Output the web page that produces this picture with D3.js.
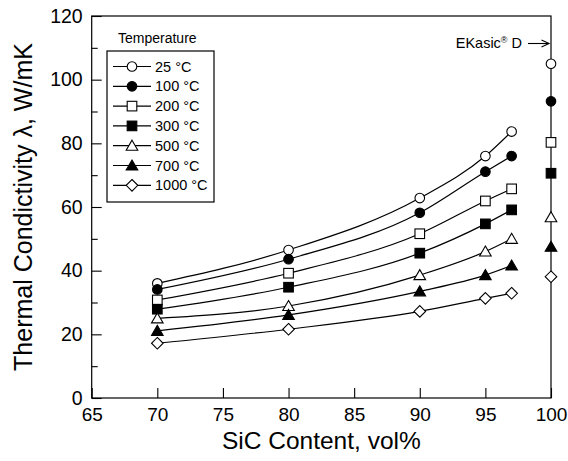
<!DOCTYPE html>
<html><head><meta charset="utf-8">
<script src="https://cdn.jsdelivr.net/npm/d3@7"></script>
<style>body{margin:0;background:#fff}svg{display:block;font-family:"Liberation Sans",Arial,sans-serif}</style>
</head><body><svg id="c" width="568" height="461"></svg>
<script>
const sicContent = [70, 80, 90, 95, 97];
const ekasicX = 100;
const temps = ["25 °C","100 °C","200 °C","300 °C","500 °C","700 °C","1000 °C"];
const k25   = [36.0, 46.5, 62.8, 76.0, 83.7];
const k100  = [34.1, 43.6, 58.2, 71.1, 76.0];
const k200  = [30.8, 39.2, 51.6, 61.9, 65.7];
const k300  = [27.9, 34.8, 45.5, 54.7, 59.1];
const k500  = [25.0, 28.9, 38.6, 46.0, 50.0];
const k700  = [21.1, 26.1, 33.5, 38.6, 41.6];
const k1000 = [17.2, 21.6, 27.2, 31.3, 32.9];
const ekasic = [105.0, 93.2, 80.3, 70.6, 56.8, 47.5, 38.1];
const xTicks = [65,70,75,80,85,90,95,100];
const yTicks = [0,20,40,60,80,100,120];
const yMinor = [10,30,50,70,90,110];
const series = [k25,k100,k200,k300,k500,k700,k1000];
const shapes = ["circle","circle","square","square","triangle","triangle","diamond"];
const filled = [false,true,false,true,false,true,false];

const svg = d3.select("#c");
const L=91.7, R=551, T=16, B=398;
const x = d3.scaleLinear().domain([65,100]).range([L,R]);
const y = d3.scaleLinear().domain([0,120]).range([B,T]);

// frame
svg.append("rect").attr("x",L).attr("y",T).attr("width",R-L).attr("height",B-T)
  .attr("fill","none").attr("stroke","#000").attr("stroke-width",1.2);

const xa = svg.append("g").attr("transform",`translate(0,${B})`)
  .call(d3.axisBottom(x).tickValues(xTicks).tickSize(-10).tickPadding(5).tickFormat(d3.format("d")));
xa.select(".domain").remove();
xa.selectAll("text").attr("font-size",19).attr("font-family","Liberation Sans, Arial").attr("dy","0.95em");
xa.selectAll("line").attr("stroke-width",1.1);

const ya = svg.append("g").attr("transform",`translate(${L},0)`)
  .call(d3.axisLeft(y).tickValues(yTicks).tickSize(-10).tickPadding(9).tickFormat(d3.format("d")));
ya.select(".domain").remove();
ya.selectAll("text").attr("font-size",19.5).attr("font-family","Liberation Sans, Arial");
ya.selectAll("line").attr("stroke-width",1.1);
const ym = svg.append("g").attr("transform",`translate(${L},0)`)
  .call(d3.axisLeft(y).tickValues(yMinor).tickSize(-6).tickFormat(""));
ym.select(".domain").remove();
ym.selectAll("line").attr("stroke-width",1.1);

// axis titles
svg.append("text").attr("x",(L+R)/2).attr("y",449).attr("text-anchor","middle")
  .attr("font-size",24.5).text("SiC Content, vol%");
svg.append("text").attr("transform",`translate(32,${(T+B)/2}) rotate(-90)`).attr("text-anchor","middle")
  .attr("font-size",25).text("Thermal Condictivity λ, W/mK");

function marker(g, shape, fill, cx, cy){
  const f = fill ? "#000" : "#fff";
  if(shape==="circle") g.append("circle").attr("cx",cx).attr("cy",cy).attr("r",4.8).attr("fill",f).attr("stroke","#000").attr("stroke-width",1.1);
  else if(shape==="square") g.append("rect").attr("x",cx-4.8).attr("y",cy-4.8).attr("width",9.6).attr("height",9.6).attr("fill",f).attr("stroke","#000").attr("stroke-width",1.1);
  else if(shape==="triangle") g.append("path").attr("d",`M${cx},${cy-5.5}L${cx+5.8},${cy+4.5}L${cx-5.8},${cy+4.5}Z`).attr("fill",f).attr("stroke","#000").attr("stroke-width",1.1);
  else g.append("path").attr("d",`M${cx},${cy-5.8}L${cx+5.8},${cy}L${cx},${cy+5.8}L${cx-5.8},${cy}Z`).attr("fill",f).attr("stroke","#000").attr("stroke-width",1.1);
}

const line = d3.line().x(d=>x(d[0])).y(d=>y(d[1])).curve(d3.curveMonotoneX);
const gl = svg.append("g"), gm = svg.append("g");
series.forEach((s,i)=>{
  const pts = sicContent.map((c,j)=>[c,s[j]]);
  gl.append("path").attr("d",line(pts)).attr("fill","none").attr("stroke","#000").attr("stroke-width",1.2);
  pts.forEach(p=>marker(gm,shapes[i],filled[i],x(p[0]),y(p[1])));
  marker(gm,shapes[i],filled[i],x(ekasicX),y(ekasic[i]));
});

// legend
svg.append("text").attr("x",118).attr("y",43).attr("font-size",14).text("Temperature");
svg.append("rect").attr("x",107).attr("y",51).attr("width",107).attr("height",151)
  .attr("fill","#fff").attr("stroke","#000").attr("stroke-width",1.2);
temps.forEach((t,i)=>{
  const yy = 66.5 + i*19.8;
  svg.append("line").attr("x1",113).attr("x2",151).attr("y1",yy).attr("y2",yy).attr("stroke","#000").attr("stroke-width",1.2);
  marker(svg,shapes[i],filled[i],132,yy);
  svg.append("text").attr("x",155).attr("y",yy+5).attr("font-size",14.5).text(t);
});

// EKasic annotation
const ann = svg.append("text").attr("x",522).attr("y",48).attr("text-anchor","end").attr("font-size",14.5);
ann.append("tspan").text("EKasic");
ann.append("tspan").attr("font-size",9).attr("dy",-5.5).text("®");
ann.append("tspan").attr("dy",5.5).text(" D");
svg.append("line").attr("x1",528).attr("x2",549).attr("y1",43.5).attr("y2",43.5).attr("stroke","#000").attr("stroke-width",1.1);
svg.append("path").attr("d","M541.5,40L549,43.5L541.5,47").attr("fill","none").attr("stroke","#000").attr("stroke-width",1.1);
</script></body></html>
